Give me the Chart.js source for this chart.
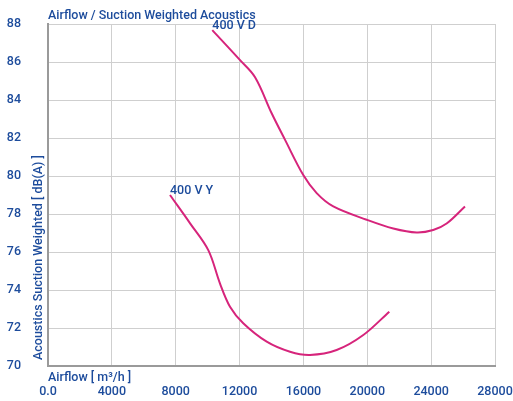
<!DOCTYPE html>
<html>
<head>
<meta charset="utf-8">
<script src="https://cdn.jsdelivr.net/npm/chart.js@4/dist/chart.umd.min.js"></script>
<style>
  html, body { margin: 0; padding: 0; background: #fff; }
  #wrap { width: 513px; height: 401px; }
</style>
</head>
<body>
<div id="wrap"><canvas id="chartAcustica"></canvas></div>
<script>
// datos
const chartTitle = "Airflow / Suction Weighted Acoustics";
const xTitle = "Airflow [ m³/h ]";
const yTitle = "Acoustics Suction Weighted [ dB(A) ]";

const xTicks = [0, 4000, 8000, 12000, 16000, 20000, 24000, 28000];
const xTickLabels = ["0.0", "4000", "8000", "12000", "16000", "20000", "24000", "28000"];
const yTicks = [70, 72, 74, 76, 78, 80, 82, 84, 86, 88];

const serieD = "400 V D";
const airflowD = [10290, 12030, 12970, 14010, 14850, 15990, 16830, 17870, 19960, 21630, 23090, 24130, 24970, 26120];
const dbD = [87.68, 86.1, 85.2, 83.3, 81.9, 80.05, 79.1, 78.4, 77.7, 77.24, 77.03, 77.16, 77.5, 78.4];

const serieY = "400 V Y";
const airflowY = [7640, 8900, 10040, 10770, 11400, 12230, 13700, 15160, 16410, 18080, 19750, 21380];
const dbY = [79.0, 77.51, 76.1, 74.35, 73.12, 72.25, 71.28, 70.75, 70.58, 70.84, 71.63, 72.86];

const colorTexto = "#1d4c9c";
const colorCurva = "#d6247b";
const fuente = "Roboto, 'Liberation Sans', Arial, sans-serif";
const pesoTexto = "500";
const tamTexto = 12.5;

function armarPuntos(xs, ys) {
    return xs.map((v, i) => ({ x: v, y: ys[i] }));
}

// sin padding extra por las etiquetas, el area del grafico queda fija
function sinPadding(s) {
    s.paddingLeft = 0;
    s.paddingRight = 0;
    s.paddingTop = 0;
    s.paddingBottom = 0;
}

const textosPlugin = {
    id: "textos",
    afterDraw(chart) {
        const { ctx, chartArea: a, scales } = chart;
        ctx.save();
        ctx.fillStyle = colorTexto;
        ctx.font = pesoTexto + " " + tamTexto + "px " + fuente;
        ctx.textAlign = "left";
        ctx.textBaseline = "alphabetic";

        ctx.fillText(chartTitle, a.left, 19);
        ctx.fillText(xTitle, a.left, 381);

        ctx.save();
        ctx.translate(42, 360);
        ctx.rotate(-Math.PI / 2);
        ctx.fillText(yTitle, 0, 0);
        ctx.restore();

        chart.data.datasets.forEach(ds => {
            const p = ds.data[0];
            ctx.fillText(ds.label, scales.x.getPixelForValue(p.x), scales.y.getPixelForValue(p.y) - 1);
        });
        ctx.restore();
    }
};

new Chart(document.getElementById("chartAcustica"), {
    type: "scatter",
    data: {
        datasets: [
            {
                label: serieD,
                data: armarPuntos(airflowD, dbD),
                showLine: true,
                borderColor: colorCurva,
                borderWidth: 2,
                pointRadius: 0,
                tension: 0.35
            },
            {
                label: serieY,
                data: armarPuntos(airflowY, dbY),
                showLine: true,
                borderColor: colorCurva,
                borderWidth: 2,
                pointRadius: 0,
                tension: 0.35
            }
        ]
    },
    options: {
        responsive: true,
        maintainAspectRatio: false,
        animation: false,
        layout: { padding: { top: 24, right: 18, left: 0, bottom: 0 } },
        plugins: {
            legend: { display: false },
            title: { display: false },
            tooltip: { enabled: false }
        },
        scales: {
            x: {
                type: "linear",
                min: xTicks[0],
                max: xTicks[xTicks.length - 1],
                afterBuildTicks: s => { s.ticks = xTicks.map(v => ({ value: v })); },
                afterFit: s => { s.height = 35; sinPadding(s); },
                ticks: {
                    color: colorTexto,
                    font: { family: fuente, size: tamTexto, weight: pesoTexto },
                    padding: 18,
                    maxRotation: 0,
                    callback: (v) => xTickLabels[xTicks.indexOf(v)]
                },
                grid: { color: "#cfcfcf", lineWidth: 1, drawTicks: false },
                border: { color: "#9a9a9a", width: 2 }
            },
            y: {
                min: yTicks[0],
                max: yTicks[yTicks.length - 1],
                afterBuildTicks: s => { s.ticks = yTicks.map(v => ({ value: v })); },
                afterFit: s => { s.width = 48; sinPadding(s); },
                ticks: {
                    color: colorTexto,
                    font: { family: fuente, size: tamTexto, weight: pesoTexto },
                    padding: 27,
                    callback: (v) => String(v)
                },
                grid: { color: "#cfcfcf", lineWidth: 1, drawTicks: false },
                border: { color: "#9a9a9a", width: 2 }
            }
        }
    },
    plugins: [textosPlugin]
});
</script>
</body>
</html>
